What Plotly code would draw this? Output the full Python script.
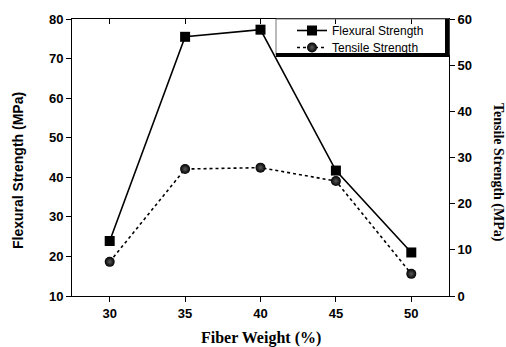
import plotly.graph_objects as go

fiber_weight = [30, 35, 40, 45, 50]
flexural_strength = [23.9, 75.5, 77.3, 41.7, 21.0]
tensile_strength = [7.4, 27.5, 27.8, 24.9, 4.8]

x_ticks = [30, 35, 40, 45, 50]
left_ticks = [10, 20, 30, 40, 50, 60, 70, 80]
right_ticks = [0, 10, 20, 30, 40, 50, 60]

SANS = "Liberation Sans, Arial, sans-serif"
SERIF = "Liberation Serif, Times New Roman, serif"

L, T, PW, PH = 72, 19, 377, 277

fig = go.Figure()
fig.add_trace(go.Scatter(
    x=fiber_weight, y=flexural_strength, name="Flexural Strength",
    mode="lines+markers",
    line=dict(color="black", width=1.6),
    marker=dict(symbol="square", size=10, color="black"),
    yaxis="y", legend="legend"))
fig.add_trace(go.Scatter(
    x=fiber_weight, y=tensile_strength, name="Tensile Strength",
    mode="lines+markers",
    line=dict(color="black", width=1.6, dash="dot"),
    marker=dict(symbol="circle", size=10, color="black",
                gradient=dict(type="radial", color="#5a5a5a")),
    yaxis="y2", legend="legend2"))
fig.add_trace(go.Scatter(x=fiber_weight, y=flexural_strength, xaxis="x2",
                         mode="none", showlegend=False, hoverinfo="skip"))

tickfont = dict(family=SANS, size=13, color="black", weight="bold")
legfont = dict(family=SANS, size=12, color="black")
lx = (292 - L) / PW
fig.update_layout(
    width=506, height=347,
    margin=dict(l=L, r=506 - L - PW, t=T, b=347 - T - PH),
    paper_bgcolor="white", plot_bgcolor="white",
    showlegend=True,
    legend=dict(x=lx, y=1 - (16 - T) / PH, xanchor="left", yanchor="top",
                bgcolor="rgba(0,0,0,0)", borderwidth=0, font=legfont, itemwidth=30),
    legend2=dict(x=lx, y=1 - (33 - T) / PH, xanchor="left", yanchor="top",
                 bgcolor="rgba(0,0,0,0)", borderwidth=0, font=legfont, itemwidth=30),
    xaxis=dict(range=[27.5, 52.5], tickvals=x_ticks, ticks="outside",
               ticklen=5, tickwidth=1, tickcolor="black", automargin=False,
               showline=True, linecolor="black", linewidth=1,
               showgrid=False, zeroline=False, tickfont=tickfont),
    xaxis2=dict(range=[27.5, 52.5], tickvals=x_ticks, ticks="inside",
                ticklen=5, tickwidth=1, tickcolor="black", automargin=False,
                overlaying="x", side="top", showticklabels=False,
                showline=True, linecolor="black", linewidth=1,
                showgrid=False, zeroline=False),
    yaxis=dict(range=[10, 80], tickvals=left_ticks, ticks="outside",
               ticklen=5, tickwidth=1, tickcolor="black", automargin=False,
               showline=True, linecolor="black", linewidth=1,
               showgrid=False, zeroline=False, tickfont=tickfont),
    yaxis2=dict(range=[0, 60], tickvals=right_ticks, ticks="outside",
                ticklen=5, tickwidth=1, tickcolor="black", automargin=False,
                overlaying="y", side="right",
                showline=True, linecolor="black", linewidth=1,
                showgrid=False, zeroline=False, tickfont=tickfont),
)

def px_x(p):
    return (p - L) / PW

def px_y(p):
    return 1 - (p - T) / PH

fig.add_annotation(text="Fiber Weight (%)", xref="paper", yref="paper",
                   x=px_x(261), y=px_y(338), xanchor="center", yanchor="middle",
                   showarrow=False,
                   font=dict(family=SERIF, size=16, color="black", weight="bold"))
fig.add_annotation(text="Flexural Strength (MPa)", textangle=-90,
                   xref="paper", yref="paper", x=px_x(18), y=px_y(170),
                   xanchor="center", yanchor="middle", showarrow=False,
                   font=dict(family=SANS, size=14, color="black", weight="bold"))
fig.add_annotation(text="Tensile Strength (MPa)", textangle=90,
                   xref="paper", yref="paper", x=px_x(498), y=px_y(172),
                   xanchor="center", yanchor="middle", showarrow=False,
                   font=dict(family=SERIF, size=14, color="black", weight="bold"))

# legend box with shadow
x0 = px_x(276)
yb = px_y(55)
fig.add_shape(type="rect", xref="paper", yref="paper", x0=x0, x1=1.0,
              y0=yb, y1=1.0,
              line=dict(color="#777777", width=1), fillcolor="rgba(0,0,0,0)")
fig.add_shape(type="line", xref="paper", yref="paper", x0=x0, x1=1.0,
              y0=yb, y1=yb, line=dict(color="black", width=4))
fig.add_shape(type="line", xref="paper", yref="paper", x0=px_x(447), x1=px_x(447),
              y0=yb, y1=1.0, line=dict(color="black", width=4))

fig.write_html("out.html")
